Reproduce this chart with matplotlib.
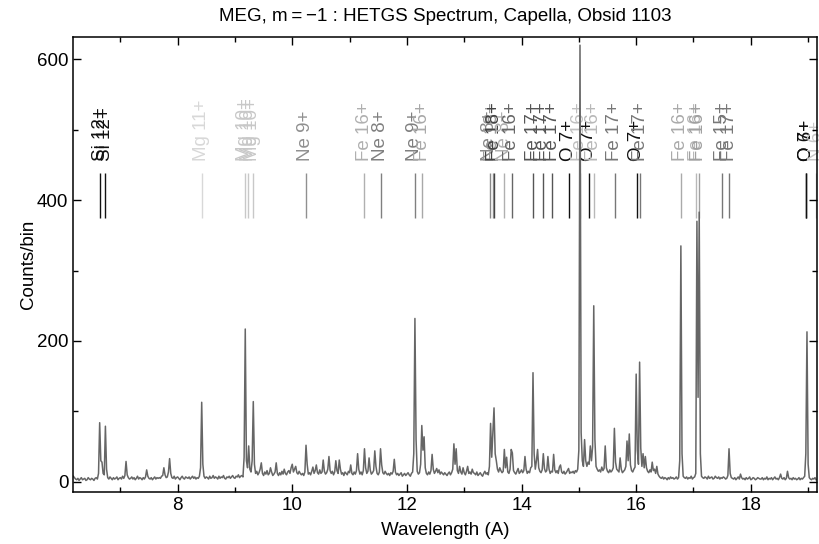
import matplotlib
matplotlib.use("Agg")
import matplotlib.pyplot as plt
import numpy as np
from matplotlib.ticker import MultipleLocator

plt.rcParams['font.family'] = ['Liberation Sans', 'DejaVu Sans']

# MEG -1 order spectrum, counts per 0.02 A bin starting at 6.18 A
wave_start = 6.18
wave_step = 0.02
counts = [
    8, 6, 4, 3, 5, 2, 4, 6, 3, 4, 5, 2, 3, 6, 4, 3, 5, 4, 2, 5, 6, 4, 12, 84, 30,        # 6.18
    28, 12, 10, 79, 18, 6, 4, 7, 5, 3, 6, 4, 5, 7, 3, 5, 6, 4, 8, 5, 9, 29, 10, 6, 4,    # 6.68
    5, 7, 4, 6, 3, 5, 8, 4, 6, 5, 3, 6, 4, 7, 17, 8, 5, 4, 6, 3, 5, 7, 4, 6, 5,         # 7.18
    6, 5, 8, 9, 20, 10, 6, 7, 14, 33, 12, 6, 5, 8, 4, 6, 7, 5, 3, 6, 8, 5, 4, 7, 6,     # 7.68
    5, 7, 4, 6, 8, 5, 7, 4, 6, 5, 8, 20, 113, 25, 8, 5, 7, 6, 4, 8, 5, 6, 9, 5, 7,      # 8.18
    6, 4, 8, 5, 7, 6, 9, 5, 4, 7, 6, 8, 5, 7, 9, 6, 5, 8, 7, 10, 6, 8, 9, 7, 35,        # 8.68
    217, 30, 20, 51, 18, 14, 30, 114, 25, 12, 15, 10, 13, 18, 27, 12, 9, 14, 11, 16, 10, 12, 20, 14, 9,  # 9.18
    11, 14, 27, 12, 9, 13, 10, 15, 11, 18, 12, 10, 14, 16, 12, 20, 25, 14, 18, 22, 13, 11, 15, 12, 10,   # 9.68
    12, 9, 14, 52, 25, 11, 13, 10, 15, 21, 12, 16, 24, 13, 11, 17, 12, 14, 31, 15, 11, 13, 18, 36, 16,   # 10.18
    12, 15, 10, 14, 30, 16, 12, 31, 18, 11, 13, 9, 14, 12, 10, 15, 13, 24, 12, 10, 14, 11, 16, 40, 18,   # 10.68
    11, 14, 10, 16, 47, 20, 12, 15, 34, 17, 11, 13, 16, 44, 22, 12, 10, 14, 47, 24, 13, 11, 15, 12, 10,  # 11.18
    12, 9, 13, 11, 15, 32, 14, 10, 12, 9, 11, 13, 8, 10, 12, 9, 11, 13, 10, 8, 12, 14, 40, 232, 60,      # 11.68
    15, 11, 13, 25, 80, 45, 64, 20, 12, 10, 14, 11, 16, 39, 18, 12, 15, 19, 13, 17, 11, 14, 12, 10, 13,  # 12.18
    11, 9, 12, 14, 10, 13, 18, 54, 25, 47, 16, 12, 22, 14, 11, 20, 13, 10, 15, 22, 12, 14, 11, 18, 13,   # 12.68
    12, 10, 14, 9, 11, 13, 10, 8, 12, 15, 11, 13, 10, 22, 83, 35, 70, 105, 40, 30, 18, 14, 20, 16, 13,   # 13.18
    15, 46, 20, 35, 14, 12, 18, 46, 41, 16, 13, 11, 15, 19, 12, 14, 17, 13, 16, 36, 18, 12, 15, 13, 20,  # 13.68
    22, 155, 40, 18, 30, 46, 20, 15, 13, 17, 40, 19, 14, 16, 36, 18, 12, 15, 14, 39, 17, 13, 16, 12, 21, # 14.18
    24, 14, 12, 15, 11, 13, 16, 19, 12, 14, 13, 15, 12, 16, 14, 18, 45, 620, 70, 30, 22, 60, 30, 22, 28, # 14.68
    25, 51, 30, 50, 250, 60, 22, 18, 15, 17, 14, 21, 16, 19, 51, 20, 15, 13, 17, 14, 16, 20, 76, 28, 18, # 15.18
    16, 14, 34, 18, 13, 15, 17, 22, 58, 30, 68, 24, 16, 14, 18, 21, 153, 45, 25, 170, 48, 22, 40, 20, 36, # 15.68
    20, 15, 13, 17, 14, 28, 16, 18, 12, 22, 11, 8, 6, 5, 7, 4, 6, 5, 3, 6, 4, 7, 5, 6, 4,              # 16.18
    5, 7, 4, 6, 30, 335, 40, 8, 6, 5, 7, 4, 6, 5, 8, 4, 6, 7, 12, 370, 120, 383, 40, 8, 6,              # 16.68
    5, 7, 6, 4, 8, 5, 6, 7, 4, 5, 8, 6, 5, 7, 4, 6, 5, 7, 6, 4, 5, 9, 47, 12, 6,                        # 17.18
    5, 4, 6, 3, 5, 7, 4, 11, 6, 4, 5, 3, 6, 4, 5, 7, 3, 4, 6, 5, 3, 4, 6, 5, 4,                         # 17.68
    4, 6, 3, 5, 4, 7, 3, 5, 4, 6, 3, 5, 7, 4, 5, 3, 6, 11, 5, 4, 6, 3, 5, 15, 6,                        # 18.18
    4, 5, 3, 6, 4, 5, 3, 4, 6, 3, 5, 4, 6, 8, 40, 213, 25, 6, 4, 3, 5, 4, 6, 3,                         # 18.68
]
wave = wave_start + wave_step * np.arange(len(counts))

# line identifications
line_waves = [6.648, 6.740, 8.421, 9.169, 9.231, 9.314, 10.239, 11.254, 11.547,
              12.134, 12.266, 13.447, 13.497, 13.525, 13.699, 13.825, 14.208,
              14.373, 14.534, 14.821, 15.014, 15.176, 15.261, 15.625, 16.006,
              16.071, 16.780, 17.051, 17.096, 17.50, 17.623, 18.969, 18.969, 19.14]
line_ions = ["Si 12+", "Si 12+", "Mg 11+", "Mg 10+", "Mg 10+", "Mg 10+", "Ne 9+",
             "Fe 16+", "Ne 8+", "Ne 9+", "Fe 16+", "Ne 8+", "Fe 18+", "Fe 18+",
             "Ne 8+", "Fe 16+", "Fe 17+", "Fe 17+", "Fe 17+", "O 7+", "Fe 16+",
             "O 7+", "Fe 16+", "Fe 17+", "O 7+", "Fe 17+", "Fe 16+", "Fe 16+",
             "Fe 16+", "Fe 15+", "Fe 17+", "O 7+", "O 6+", "N 6+"]
line_colors = ["#111111", "#111111", "#d8d8d8", "#c8c8c8", "#c8c8c8", "#c8c8c8",
               "#909090", "#b0b0b0", "#808080", "#808080", "#a8a8a8", "#888888",
               "#999999", "#444444", "#b0b0b0", "#666666", "#555555", "#555555",
               "#555555", "#111111", "#c0c0c0", "#111111", "#b8b8b8", "#777777",
               "#111111", "#777777", "#aaaaaa", "#b8b8b8", "#a0a0a0", "#777777",
               "#777777", "#111111", "#111111", "#c8c8c8"]

fig = plt.figure(figsize=(8.2, 5.44), dpi=100)
ax = fig.add_axes([0.0894, 0.0961, 0.9066, 0.8364])

ax.vlines(line_waves, 375, 438, colors=line_colors, lw=1.0, zorder=1)
for w, ion, c in zip(line_waves, line_ions, line_colors):
    ax.text(w, 455, ion, rotation=90, ha='center', va='bottom', color=c,
            fontsize=13.5, clip_on=False, zorder=1)

ax.plot(wave, counts, color='#666666', lw=1.1, zorder=2)

ax.set_xlim(6.18, 19.15)
ax.set_ylim(-14, 632)
ax.xaxis.set_major_locator(MultipleLocator(2))
ax.xaxis.set_minor_locator(MultipleLocator(1))
ax.yaxis.set_major_locator(MultipleLocator(200))
ax.yaxis.set_minor_locator(MultipleLocator(100))
ax.tick_params(which='both', direction='in', top=True, right=True, labelsize=13.5, width=1.0)
ax.tick_params(which='major', length=6)
ax.tick_params(which='minor', length=3.5)
for s in ax.spines.values():
    s.set_linewidth(1.1)

ax.set_xlabel("Wavelength (A)", fontsize=13.5, labelpad=6)
ax.set_ylabel("Counts/bin", fontsize=13.5, labelpad=0)
ax.set_title("MEG, m\u2009=\u2009\u22121 : HETGS Spectrum, Capella, Obsid 1103", fontsize=13.5, pad=11)

plt.savefig("out.png", dpi=100)
